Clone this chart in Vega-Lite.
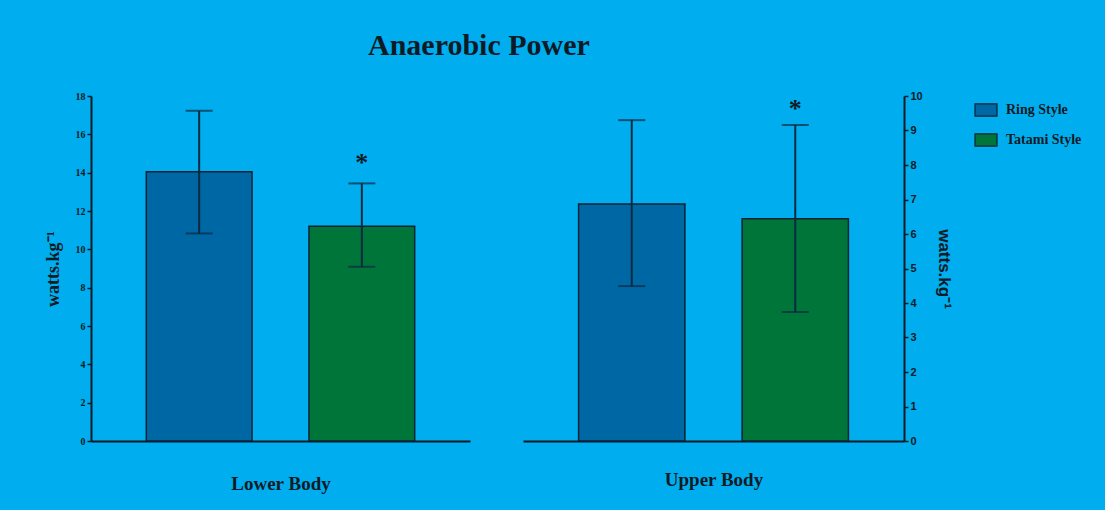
{
  "$schema": "https://vega.github.io/schema/vega-lite/v6.json",
  "background": "#00AEEF",
  "padding": {"left": 44, "top": 30, "right": 21, "bottom": 17},
  "title": {"text": "Anaerobic Power", "font": "Liberation Serif", "fontSize": 30, "fontWeight": "bold", "color": "#0d1b26", "anchor": "start", "dx": 324, "offset": 17, "baseline": "top"},
  "data": {"values": [
    {"group": "Lower Body", "style": "Ring Style", "mean": 14.05, "lo": 10.83, "hi": 17.23, "sig": ""},
    {"group": "Lower Body", "style": "Tatami Style", "mean": 11.2, "lo": 9.09, "hi": 13.44, "sig": "*"},
    {"group": "Upper Body", "style": "Ring Style", "mean": 6.87, "lo": 4.49, "hi": 9.3, "sig": ""},
    {"group": "Upper Body", "style": "Tatami Style", "mean": 6.44, "lo": 3.74, "hi": 9.16, "sig": "*"}
  ]},
  "spacing": 53,
  "hconcat": [
    {
      "transform": [{"filter": "datum.group === 'Lower Body'"}],
      "width": 379,
      "height": 345,
      "encoding": {
        "x": {"field": "style", "type": "nominal", "scale": {"paddingInner": 0.35, "paddingOuter": 0.34},
          "axis": {"labels": false, "ticks": false, "title": "Lower Body", "titleFont": "Liberation Serif", "titleFontSize": 19, "titleFontWeight": "bold", "titleColor": "#0d1b26", "titlePadding": 33, "domainColor": "#0d1b26", "domainWidth": 2}}
      },
      "layer": [
        {"mark": {"type": "bar", "stroke": "#0b2233", "strokeWidth": 1.5},
         "encoding": {
           "y": {"field": "mean", "type": "quantitative", "title": "watts.kg⁻¹", "scale": {"domain": [0, 18], "nice": false},
             "axis": {"values": [0, 2, 4, 6, 8, 10, 12, 14, 16, 18], "labelOverlap": false, "grid": false, "labelFont": "Liberation Serif", "labelFontSize": 10, "labelFontWeight": "bold", "labelColor": "#0d1b26", "tickColor": "#0d1b26", "tickSize": 4, "tickWidth": 1.5, "domainColor": "#0d1b26", "domainWidth": 2, "labelPadding": 2, "titleFont": "Liberation Serif", "titleFontSize": 18, "titleFontWeight": "bold", "titleColor": "#0d1b26", "titlePadding": 13}},
           "color": {"field": "style", "type": "nominal", "scale": {"domain": ["Ring Style", "Tatami Style"], "range": ["#0067A5", "#00753A"]}, "legend": {"title": null}}
         }},
        {"mark": {"type": "rule", "color": "#0b2a3f", "strokeWidth": 2},
         "encoding": {"y": {"field": "lo", "type": "quantitative", "title": "watts.kg⁻¹",
             "axis": {"values": [0, 2, 4, 6, 8, 10, 12, 14, 16, 18], "labelOverlap": false, "grid": false, "labelFont": "Liberation Serif", "labelFontSize": 10, "labelFontWeight": "bold", "labelColor": "#0d1b26", "tickColor": "#0d1b26", "tickSize": 4, "tickWidth": 1.5, "domainColor": "#0d1b26", "domainWidth": 2, "labelPadding": 2, "titleFont": "Liberation Serif", "titleFontSize": 18, "titleFontWeight": "bold", "titleColor": "#0d1b26", "titlePadding": 13}}, "y2": {"field": "hi"}}},
        {"mark": {"type": "tick", "color": "#0b2a3f", "size": 27, "thickness": 2},
         "encoding": {"y": {"field": "lo", "type": "quantitative", "title": "watts.kg⁻¹",
             "axis": {"values": [0, 2, 4, 6, 8, 10, 12, 14, 16, 18], "labelOverlap": false, "grid": false, "labelFont": "Liberation Serif", "labelFontSize": 10, "labelFontWeight": "bold", "labelColor": "#0d1b26", "tickColor": "#0d1b26", "tickSize": 4, "tickWidth": 1.5, "domainColor": "#0d1b26", "domainWidth": 2, "labelPadding": 2, "titleFont": "Liberation Serif", "titleFontSize": 18, "titleFontWeight": "bold", "titleColor": "#0d1b26", "titlePadding": 13}}}},
        {"mark": {"type": "tick", "color": "#0b2a3f", "size": 27, "thickness": 2},
         "encoding": {"y": {"field": "hi", "type": "quantitative", "title": "watts.kg⁻¹",
             "axis": {"values": [0, 2, 4, 6, 8, 10, 12, 14, 16, 18], "labelOverlap": false, "grid": false, "labelFont": "Liberation Serif", "labelFontSize": 10, "labelFontWeight": "bold", "labelColor": "#0d1b26", "tickColor": "#0d1b26", "tickSize": 4, "tickWidth": 1.5, "domainColor": "#0d1b26", "domainWidth": 2, "labelPadding": 2, "titleFont": "Liberation Serif", "titleFontSize": 18, "titleFontWeight": "bold", "titleColor": "#0d1b26", "titlePadding": 13}}}},
        {"mark": {"type": "text", "font": "Liberation Serif", "fontSize": 26, "fontWeight": "bold", "color": "#0d1b26", "baseline": "middle", "dy": -20},
         "encoding": {"y": {"field": "hi", "type": "quantitative", "title": "watts.kg⁻¹",
             "axis": {"values": [0, 2, 4, 6, 8, 10, 12, 14, 16, 18], "labelOverlap": false, "grid": false, "labelFont": "Liberation Serif", "labelFontSize": 10, "labelFontWeight": "bold", "labelColor": "#0d1b26", "tickColor": "#0d1b26", "tickSize": 4, "tickWidth": 1.5, "domainColor": "#0d1b26", "domainWidth": 2, "labelPadding": 2, "titleFont": "Liberation Serif", "titleFontSize": 18, "titleFontWeight": "bold", "titleColor": "#0d1b26", "titlePadding": 13}}, "text": {"field": "sig"}}}
      ]
    },
    {
      "transform": [{"filter": "datum.group === 'Upper Body'"}],
      "width": 381,
      "height": 345,
      "encoding": {
        "x": {"field": "style", "type": "nominal", "scale": {"paddingInner": 0.35, "paddingOuter": 0.34},
          "axis": {"labels": false, "ticks": false, "title": "Upper Body", "titleFont": "Liberation Serif", "titleFontSize": 19, "titleFontWeight": "bold", "titleColor": "#0d1b26", "titlePadding": 29, "domainColor": "#0d1b26", "domainWidth": 2}}
      },
      "layer": [
        {"mark": {"type": "bar", "stroke": "#0b2233", "strokeWidth": 1.5},
         "encoding": {
           "y": {"field": "mean", "type": "quantitative", "title": "watts.kg⁻¹", "scale": {"domain": [0, 10], "nice": false},
             "axis": {"orient": "right", "values": [0, 1, 2, 3, 4, 5, 6, 7, 8, 9, 10], "labelOverlap": false, "grid": false, "labelFont": "Liberation Sans", "labelFontSize": 11, "labelFontWeight": "bold", "labelColor": "#0d1b26", "tickColor": "#0d1b26", "tickSize": 4, "tickWidth": 1.5, "domainColor": "#0d1b26", "domainWidth": 2, "labelPadding": 2, "titleFont": "Liberation Sans", "titleFontSize": 17, "titleFontWeight": "bold", "titleColor": "#0d1b26", "titlePadding": 12, "titleAngle": 90}},
           "color": {"field": "style", "type": "nominal", "scale": {"domain": ["Ring Style", "Tatami Style"], "range": ["#0067A5", "#00753A"]}, "legend": {"title": null}}
         }},
        {"mark": {"type": "rule", "color": "#0b2a3f", "strokeWidth": 2},
         "encoding": {"y": {"field": "lo", "type": "quantitative", "title": "watts.kg⁻¹",
             "axis": {"orient": "right", "values": [0, 1, 2, 3, 4, 5, 6, 7, 8, 9, 10], "labelOverlap": false, "grid": false, "labelFont": "Liberation Sans", "labelFontSize": 11, "labelFontWeight": "bold", "labelColor": "#0d1b26", "tickColor": "#0d1b26", "tickSize": 4, "tickWidth": 1.5, "domainColor": "#0d1b26", "domainWidth": 2, "labelPadding": 2, "titleFont": "Liberation Sans", "titleFontSize": 17, "titleFontWeight": "bold", "titleColor": "#0d1b26", "titlePadding": 12, "titleAngle": 90}}, "y2": {"field": "hi"}}},
        {"mark": {"type": "tick", "color": "#0b2a3f", "size": 27, "thickness": 2},
         "encoding": {"y": {"field": "lo", "type": "quantitative", "title": "watts.kg⁻¹",
             "axis": {"orient": "right", "values": [0, 1, 2, 3, 4, 5, 6, 7, 8, 9, 10], "labelOverlap": false, "grid": false, "labelFont": "Liberation Sans", "labelFontSize": 11, "labelFontWeight": "bold", "labelColor": "#0d1b26", "tickColor": "#0d1b26", "tickSize": 4, "tickWidth": 1.5, "domainColor": "#0d1b26", "domainWidth": 2, "labelPadding": 2, "titleFont": "Liberation Sans", "titleFontSize": 17, "titleFontWeight": "bold", "titleColor": "#0d1b26", "titlePadding": 12, "titleAngle": 90}}}},
        {"mark": {"type": "tick", "color": "#0b2a3f", "size": 27, "thickness": 2},
         "encoding": {"y": {"field": "hi", "type": "quantitative", "title": "watts.kg⁻¹",
             "axis": {"orient": "right", "values": [0, 1, 2, 3, 4, 5, 6, 7, 8, 9, 10], "labelOverlap": false, "grid": false, "labelFont": "Liberation Sans", "labelFontSize": 11, "labelFontWeight": "bold", "labelColor": "#0d1b26", "tickColor": "#0d1b26", "tickSize": 4, "tickWidth": 1.5, "domainColor": "#0d1b26", "domainWidth": 2, "labelPadding": 2, "titleFont": "Liberation Sans", "titleFontSize": 17, "titleFontWeight": "bold", "titleColor": "#0d1b26", "titlePadding": 12, "titleAngle": 90}}}},
        {"mark": {"type": "text", "font": "Liberation Serif", "fontSize": 26, "fontWeight": "bold", "color": "#0d1b26", "baseline": "middle", "dy": -16},
         "encoding": {"y": {"field": "hi", "type": "quantitative", "title": "watts.kg⁻¹",
             "axis": {"orient": "right", "values": [0, 1, 2, 3, 4, 5, 6, 7, 8, 9, 10], "labelOverlap": false, "grid": false, "labelFont": "Liberation Sans", "labelFontSize": 11, "labelFontWeight": "bold", "labelColor": "#0d1b26", "tickColor": "#0d1b26", "tickSize": 4, "tickWidth": 1.5, "domainColor": "#0d1b26", "domainWidth": 2, "labelPadding": 2, "titleFont": "Liberation Sans", "titleFontSize": 17, "titleFontWeight": "bold", "titleColor": "#0d1b26", "titlePadding": 12, "titleAngle": 90}}, "text": {"field": "sig"}}}
      ]
    }
  ],
  "config": {
    "view": {"stroke": null},
    "legend": {"orient": "right", "offset": 19, "padding": 2, "rowPadding": 9, "labelFont": "Liberation Serif", "labelFontSize": 14, "labelFontWeight": "bold", "labelColor": "#0d1b26", "symbolType": "M-1,-0.55H1V0.55H-1Z", "symbolSize": 484, "symbolStrokeColor": "#0b2233", "symbolStrokeWidth": 1.2, "symbolOpacity": 1, "labelOffset": 8}
  }
}
